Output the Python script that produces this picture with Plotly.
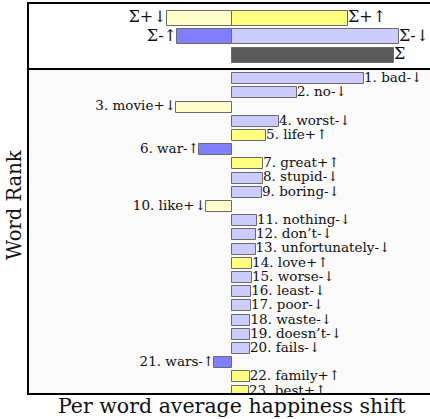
import plotly.graph_objects as go

# ---- data ----
words = ["bad", "no", "movie", "worst", "life", "war", "great", "stupid", "boring", "like",
         "nothing", "don\u2019t", "unfortunately", "love", "worse", "least", "poor", "waste",
         "doesn\u2019t", "fails", "wars", "family", "best"]
kinds = ["-\u2193", "-\u2193", "+\u2193", "-\u2193", "+\u2191", "-\u2191", "+\u2191", "-\u2193", "-\u2193", "+\u2193",
         "-\u2193", "-\u2193", "-\u2193", "+\u2191", "-\u2193", "-\u2193", "-\u2193", "-\u2193",
         "-\u2193", "-\u2193", "-\u2191", "+\u2191", "+\u2191"]
shifts = [100, 49.2, -42.4, 35.6, 25.8, -25.0, 23.6, 23.4, 22.7, -19.7,
          18.9, 18.2, 17.8, 15.2, 15.1, 14.5, 14.4, 14.0, 13.8, 13.6, -13.5, 13.4, 12.9]
ranks = list(range(1, len(words) + 1))

sum_labels = ["\u03a3+\u2193", "\u03a3+\u2191", "\u03a3-\u2191", "\u03a3-\u2193", "\u03a3"]
sum_values = [-49.5, 87.9, -41.7, 126.5, 122.7]
sum_rows = [1, 1, 2, 2, 3]

colors = {"+\u2191": "#FFFF80", "+\u2193": "#FFFFCC", "-\u2191": "#7F7FFF", "-\u2193": "#CCCCFF"}
sum_colors = ["#FFFFCC", "#FFFF80", "#7F7FFF", "#CCCCFF", "#5A5A5A"]

FONT = "DejaVu Serif"
XR = [-153.8, 150.0]

fig = go.Figure()

fig.add_trace(go.Bar(
    x=shifts, y=ranks, orientation="h", width=0.78,
    marker=dict(color=[colors[k] for k in kinds], line=dict(color="#6a6a6a", width=1)),
    xaxis="x", yaxis="y", showlegend=False, hoverinfo="skip"))

# word labels, clipped to the plot area like the reference
fig.add_trace(go.Scatter(
    x=shifts, y=ranks, mode="text",
    text=[f"{r}. {w}{k}" for r, w, k in zip(ranks, words, kinds)],
    textposition=["middle right" if v > 0 else "middle left" for v in shifts],
    textfont=dict(family=FONT, size=13.5, color="#111"),
    cliponaxis=True, xaxis="x", yaxis="y", showlegend=False, hoverinfo="skip"))

fig.add_trace(go.Bar(
    x=sum_values, y=sum_rows, orientation="h", width=0.8,
    marker=dict(color=sum_colors, line=dict(color="#6a6a6a", width=1)),
    xaxis="x2", yaxis="y2", showlegend=False, hoverinfo="skip"))

fig.add_trace(go.Scatter(
    x=sum_values, y=sum_rows, mode="text", text=sum_labels,
    textposition=["middle right" if v > 0 else "middle left" for v in sum_values],
    textfont=dict(family=FONT, size=16, color="#111"),
    cliponaxis=False, xaxis="x2", yaxis="y2", showlegend=False, hoverinfo="skip"))

annotations = [
    dict(x=(232 / 430), y=(419 - 393) / 419, xref="paper", yref="paper",
         text="Per word average happiness shift", showarrow=False,
         xanchor="center", yanchor="top", borderpad=0,
         font=dict(family=FONT, size=20.5, color="#111")),
    dict(x=14 / 430, y=(419 - 205) / 419, xref="paper", yref="paper", text="Word Rank",
         showarrow=False, textangle=-90, xanchor="center", yanchor="middle",
         font=dict(family=FONT, size=19.5, color="#111")),
]

fig.update_layout(
    width=430, height=419,
    margin=dict(l=0, r=0, t=0, b=0),
    paper_bgcolor="white",
    plot_bgcolor="#FAFAFA",
    bargap=0,
    annotations=annotations,
    xaxis=dict(domain=[29 / 430, 1.0], range=XR, showgrid=False, zeroline=False,
               showticklabels=False, ticks="", showline=True, linecolor="black", linewidth=1.5,
               anchor="y"),
    yaxis=dict(domain=[(419 - 393) / 419, (419 - 68) / 419], range=[23.13, 0.25],
               showgrid=False, zeroline=False, showticklabels=False, ticks="",
               showline=True, linecolor="black", linewidth=2, anchor="x"),
    xaxis2=dict(domain=[29 / 430, 1.0], range=XR, showgrid=False, zeroline=False,
                showticklabels=False, ticks="", showline=True, mirror=True,
                linecolor="black", linewidth=1.5, anchor="y2"),
    yaxis2=dict(domain=[(419 - 68) / 419, (419 - 4) / 419], range=[3.68, 0.24],
                showgrid=False, zeroline=False, showticklabels=False, ticks="",
                showline=True, linecolor="black", linewidth=2, anchor="x2"),
)

# white background for the summary panel
fig.add_shape(type="rect", xref="x2 domain", yref="y2 domain", x0=0, x1=1, y0=0, y1=1,
              fillcolor="white", line=dict(width=0), layer="below")

post = ("document.body.style.margin='0';document.body.style.overflow='hidden';"
        "var gd=document.getElementById('{plot_id}');"
        "gd.style.width='430px';gd.style.height='419px';"
        "Plotly.relayout(gd,{width:430,height:419});")

fig.write_html("out.html", config={"responsive": False, "displayModeBar": False},
               post_script=post)
